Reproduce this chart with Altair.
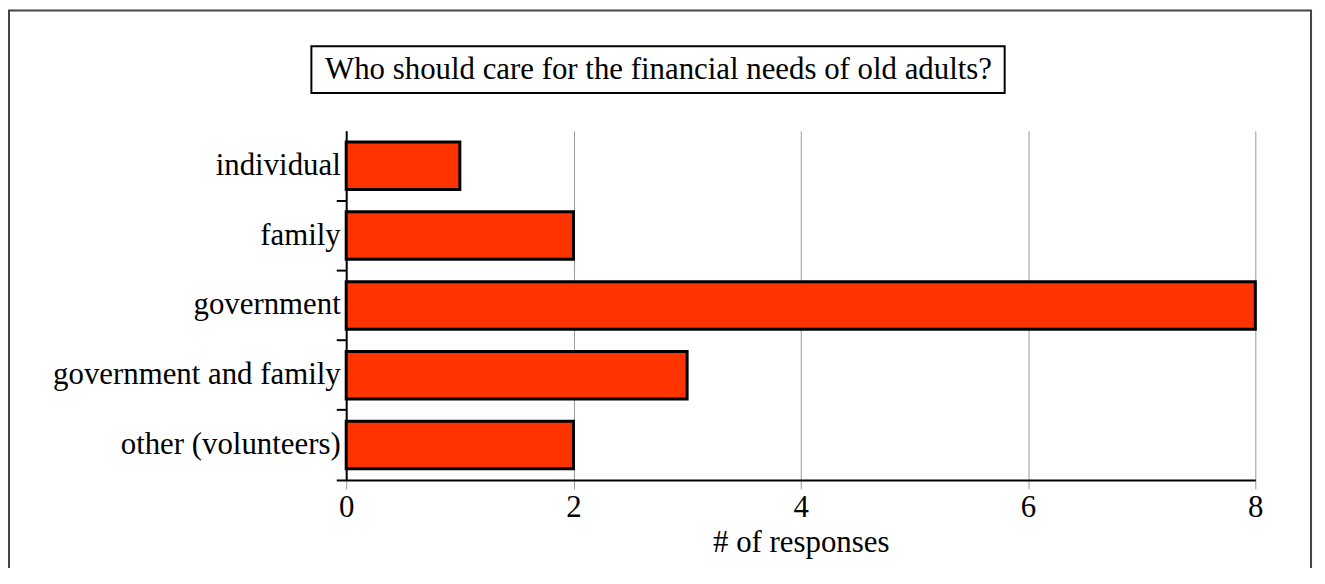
import altair as alt
import pandas as pd

categories = ["individual", "family", "government", "government and family", "other (volunteers)"]
responses = [1, 2, 8, 3, 2]
x_ticks = [0, 2, 4, 6, 8]
title_text = "Who should care for the financial needs of old adults?"
x_title = "# of responses"

FONT = "Liberation Serif"
W, H = 914, 351
PAD = {"left": 340, "top": 122, "right": 62, "bottom": 87}

df = pd.DataFrame({"category": categories, "responses": responses})
one = pd.DataFrame({"k": [0]})

bars = alt.Chart(df).mark_bar(
    fill="#FF3300", stroke="black", strokeWidth=3, height={"band": 0.68}
).encode(
    x=alt.X("responses:Q",
            scale=alt.Scale(domain=[0, 8], nice=False),
            axis=alt.Axis(values=x_ticks, grid=True, gridColor="#999999", gridWidth=1,
                          tickColor="#999999", tickSize=9, tickWidth=1,
                          domainColor="black", domainWidth=2, labelFlush=False,
                          labelFont=FONT, labelFontSize=31, labelColor="black", labelPadding=4,
                          title=x_title, titleFont=FONT, titleFontSize=31,
                          titleFontWeight="normal", titleColor="black", titlePadding=5)),
    y=alt.Y("category:N", sort=categories,
            scale=alt.Scale(paddingInner=0, paddingOuter=0),
            axis=alt.Axis(title=None, grid=False, bandPosition=1,
                          tickColor="black", tickSize=10, tickWidth=2,
                          domainColor="black", domainWidth=2,
                          labelFont=FONT, labelFontSize=31, labelColor="black",
                          labelPadding=-4, labelLimit=0)),
)

frame = alt.Chart(one).mark_rect(fill=None, stroke="#444444", strokeWidth=2).encode(
    x=alt.value(-339), x2=alt.value(970), y=alt.value(-121), y2=alt.value(480)
)

title_box = alt.Chart(one).mark_rect(fill="white", stroke="black", strokeWidth=2).encode(
    x=alt.value(-35), x2=alt.value(662), y=alt.value(-85), y2=alt.value(-38)
)

title = alt.Chart(one).mark_text(
    text=title_text, font=FONT, fontSize=31, color="black", align="center", baseline="middle"
).encode(x=alt.value(314), y=alt.value(-61))

chart = alt.layer(frame, title_box, title, bars).properties(
    width=W, height=H, padding=PAD,
    autosize=alt.AutoSizeParams(type="none"),
    background="white",
).configure_view(stroke=None)

chart.save("out.html", embed_options={"renderer": "svg", "actions": False})
